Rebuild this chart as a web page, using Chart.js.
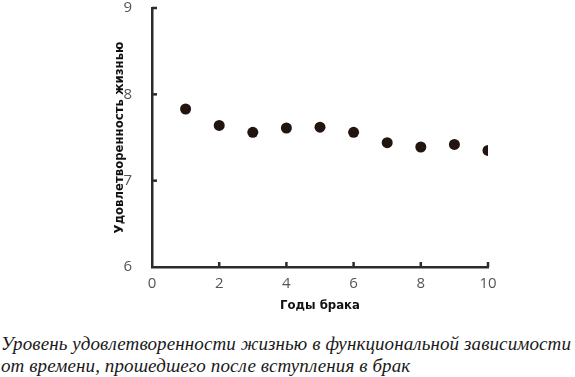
<!DOCTYPE html>
<html>
<head>
<meta charset="utf-8">
<script src="https://cdn.jsdelivr.net/npm/chart.js@4"></script>
<style>
  body { margin: 0; background: #fff; }
  #wrap { position: relative; width: 575px; height: 377px; }
  #chartcanvas { position: absolute; left: 0; top: 0; }
  #caption {
    position: absolute; left: 1px; top: 333px; width: 580px;
    font-family: "Liberation Serif", serif; font-style: italic;
    font-size: 19px; letter-spacing: 0.1px; line-height: 22px; color: #1a1a1a; white-space: nowrap;
  }
</style>
</head>
<body>
<div id="wrap">
  <canvas id="chartcanvas" width="575" height="320"></canvas>
  <div id="caption">Уровень удовлетворенности жизнью в функциональной зависимости<br>от времени, прошедшего после вступления в брак</div>
</div>
<script>
const years = [1, 2, 3, 4, 5, 6, 7, 8, 9, 10];
const satisfaction = [7.83, 7.64, 7.56, 7.61, 7.62, 7.56, 7.44, 7.39, 7.42, 7.35];
const xTicks = [0, 2, 4, 6, 8, 10];
const yTicks = [6, 7, 8, 9];
const xTitle = 'Годы брака';
const yTitle = 'Удовлетворенность жизнью';

const canvas = document.getElementById('chartcanvas');
const ctx = canvas.getContext('2d');
const axisColor = '#2e2a27';

function setData(x, y){
  let data = [];
  for (var i = 0; i < x.length; i++) {
    data.push({x: x[i], y: y[i]});
  };
  return data;
}

// small tick marks pointing into the plot
const innerTicks = {
  id: 'innerTicks',
  afterDraw(chart) {
    const c = chart.ctx;
    const xs = chart.scales.x;
    const ys = chart.scales.y;
    c.save();
    c.strokeStyle = axisColor;
    c.lineWidth = 2.5;
    xTicks.forEach(v => {
      if (v === 0) return;
      const px = xs.getPixelForValue(v);
      c.beginPath();
      c.moveTo(px, ys.bottom);
      c.lineTo(px, ys.bottom - 5);
      c.stroke();
    });
    yTicks.forEach(v => {
      if (v === 6) return;
      const py = ys.getPixelForValue(v);
      c.beginPath();
      c.moveTo(xs.left, py);
      c.lineTo(xs.left + 5, py);
      c.stroke();
    });
    c.restore();
  }
};

const titleFont = { family: '"Liberation Sans Narrow", "DejaVu Sans Condensed", sans-serif', size: 13, weight: 'bold' };
const tickFont = { family: '"Open Sans", sans-serif', size: 15 };

const mapOptions = {
  responsive: false,
  animation: false,
  layout: { padding: { left: 0, top: 8, right: 87, bottom: 0 } },
  scales: {
    x: {
      type: 'linear',
      min: 0,
      max: 10,
      afterFit: (s) => { s.height = 53; s.paddingLeft = 0; s.paddingRight = 0; },
      afterBuildTicks: (s) => { s.ticks = xTicks.map(v => ({value: v})); },
      grid: { display: false },
      border: { display: true, color: axisColor, width: 2.5 },
      ticks: { color: '#555', font: tickFont, padding: 0 },
      title: { display: true, text: xTitle, color: '#111', font: titleFont, padding: { top: 0, bottom: 7 } },
    },
    y: {
      type: 'linear',
      min: 6,
      max: 9,
      afterFit: (s) => { s.width = 152; s.paddingTop = 0; s.paddingBottom = 0; },
      afterBuildTicks: (s) => { s.ticks = yTicks.map(v => ({value: v})); },
      grid: { display: false },
      border: { display: true, color: axisColor, width: 2.5 },
      ticks: { color: '#555', font: tickFont, padding: 12 },
      title: { display: true, text: yTitle, color: '#111', font: titleFont, padding: { top: 112, bottom: 0 } },
    }
  },
  elements: {
    point: {
      backgroundColor: '#22150f',
      borderWidth: 0,
      radius: 5.5
    }
  },
  plugins: {
    legend: { display: false },
    tooltip: { enabled: false }
  }
};

const mapConfig = {
  type: 'scatter',
  data: {
    datasets: [{
      data: setData(years, satisfaction),
      backgroundColor: '#22150f',
      borderColor: '#22150f',
    }]
  },
  options: mapOptions,
  plugins: [innerTicks]
};

const mapChart = new Chart(ctx, mapConfig);
</script>
</body>
</html>
